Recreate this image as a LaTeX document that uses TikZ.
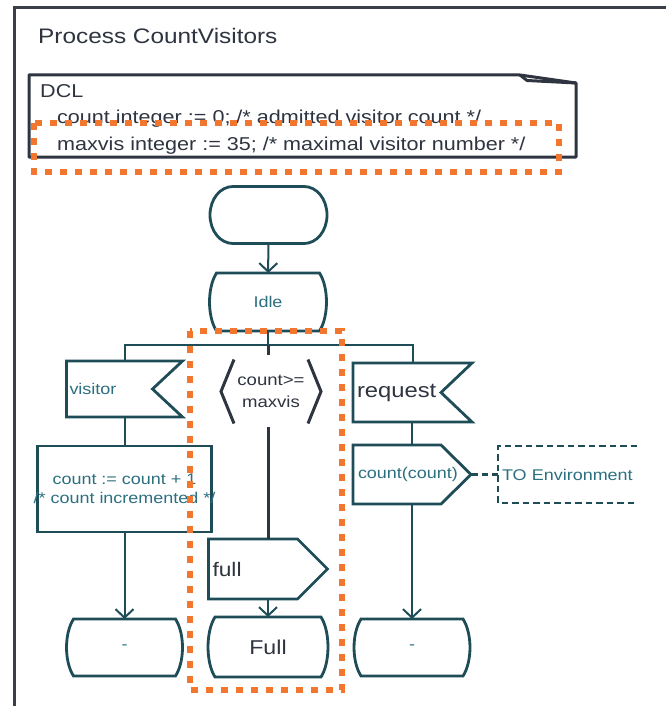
\documentclass[tikz,border=0pt]{standalone}
\usepackage{fontspec}
\setmainfont{Liberation Sans}[FakeStretch=1.16]
\usetikzlibrary{arrows.meta,calc}

\definecolor{sdlline}{HTML}{1E4D58}
\definecolor{sdltext}{HTML}{2C7080}
\definecolor{inktext}{HTML}{2E3440}
\definecolor{framegray}{HTML}{3A3F48}
\definecolor{marker}{HTML}{F2762E}

\tikzset{
  sdl/.style={draw=sdlline, line width=2.8pt},
  flow/.style={draw=sdlline, line width=2pt},
  flowarrow/.style={flow, -{Straight Barb[length=8.5pt,width=18pt]}},
  guardline/.style={draw=inktext, line width=3pt},
  dclline/.style={draw=inktext, line width=3pt, line join=round},
  sdlbox/.style={inner sep=0pt, outer sep=0pt},
  labsmall/.style={font=\fontsize{15.5}{19}\selectfont, text=sdltext},
  lablarge/.style={font=\fontsize{20}{24}\selectfont, text=inktext},
  dcltext/.style={anchor=base west, inner sep=0pt, font=\fontsize{18.6}{22}\selectfont, text=inktext},
  hilite/.style={draw=marker, line width=6pt, dash pattern=on 7pt off 8pt},
  envline/.style={draw=sdlline, line width=2.6pt, dash pattern=on 6.5pt off 4pt},
}

% SDL start: flat top and bottom with half-elliptic ends
\newcommand\startoutline[1]{%
  \draw[sdl] ($(#1.north west)+(23,0)$) -- ($(#1.north east)+(-23,0)$)
    .. controls ($(#1.north east)+(-10.3,0)$) and ($(#1.east)+(0,-16)$) .. (#1.east)
    .. controls ($(#1.east)+(0,16)$) and ($(#1.south east)+(-10.3,0)$) .. ($(#1.south east)+(-23,0)$)
    -- ($(#1.south west)+(23,0)$)
    .. controls ($(#1.south west)+(10.3,0)$) and ($(#1.west)+(0,16)$) .. (#1.west)
    .. controls ($(#1.west)+(0,-16)$) and ($(#1.north west)+(10.3,0)$) .. cycle;}
% SDL state: straight top and bottom, bulging sides
\newcommand\stateoutline[1]{%
  \draw[sdl] ($(#1.north west)+(7,0)$) -- ($(#1.north east)+(-7,0)$)
    .. controls ($(#1.north east)+(2.3,14.5)$) and ($(#1.south east)+(2.3,-14.5)$) .. ($(#1.south east)+(-7,0)$)
    -- ($(#1.south west)+(7,0)$)
    .. controls ($(#1.south west)+(-2.3,-14.5)$) and ($(#1.north west)+(-2.3,14.5)$) .. cycle;}
% SDL signal input: notch cut into the right side
\newcommand\inputoutline[2]{%
  \draw[sdl] (#1.north west) -- (#1.north east) -- ($(#1.east)+(-#2,0)$)
    -- (#1.south east) -- (#1.south west) -- cycle;}
% SDL signal output: pointed right side
\newcommand\outputoutline[2]{%
  \draw[sdl] (#1.north west) -- ($(#1.north east)+(-#2,0)$) -- (#1.east)
    -- ($(#1.south east)+(-#2,0)$) -- (#1.south west) -- cycle;}

\begin{document}
\begin{tikzpicture}[x=1pt,y=-1pt]
\useasboundingbox (0,0) rectangle (666,706);
\fill[white] (0,0) rectangle (666,706);

% process frame and heading
\draw[framegray, line width=3pt] (14,706) -- (14,7.5) -- (666,7.5);
\node[anchor=base west, inner sep=0pt, font=\fontsize{21}{25}\selectfont, text=inktext] (title) at (38,44) {Process CountVisitors};

% declarations text symbol
\node[sdlbox, minimum width=547, minimum height=82, anchor=north west] (dcl) at (29,75) {};
\draw[dclline] (dcl.north west) -- ($(dcl.north east)+(-56,0)$) -- ($(dcl.north east)+(0,8)$)
  -- (dcl.south east) -- (dcl.south west) -- cycle;
\draw[dclline] ($(dcl.north east)+(-56,0)$) -- ($(dcl.north east)+(-49,5.5)$) -- ($(dcl.north east)+(0,8)$);
\node[dcltext] (dclA) at (40,97.5) {DCL};
\node[dcltext] (dclB) at (57,124) {count integer := 0; /* admitted visitor count */};
\node[dcltext] (dclC) at (57,150) {maxvis integer := 35; /* maximal visitor number */};

% start and Idle
\node[sdlbox, minimum width=117, minimum height=57] (start) at (268.5,215) {};
\startoutline{start}
\node[sdlbox, minimum width=117, minimum height=58, labsmall] (idle) at (268,302) {Idle};
\stateoutline{idle}
\coordinate (bus) at (268,345);

% left branch: visitor
\node[sdlbox, minimum width=116, minimum height=56, text width=110, inner xsep=3pt, align=left, labsmall] (vis) at (124.5,389) {visitor};
\inputoutline{vis}{30}
\node[sdlbox, sdl, minimum width=174, minimum height=86, align=center, labsmall] (task) at (124.5,489)
  {\makebox[0pt]{count := count + 1}\\\makebox[0pt]{/* count incremented */}};
\node[sdlbox, minimum width=116, minimum height=57, labsmall] (d1) at (124.5,647.5) {-};
\stateoutline{d1}

% middle branch: continuous signal
\node[sdlbox, minimum width=100, minimum height=64, align=center, font=\fontsize{16}{22}\selectfont, text=inktext] (cont) at (271,391.5) {count>=\\maxvis};
\draw[guardline] ($(cont.north west)+(13,0)$) -- (cont.west) -- ($(cont.south west)+(13,0)$);
\draw[guardline] ($(cont.north east)+(-13,0)$) -- (cont.east) -- ($(cont.south east)+(-13,0)$);
\node[sdlbox, minimum width=119, minimum height=60, text width=111, inner xsep=4pt, align=left, lablarge, font=\fontsize{19.6}{24}\selectfont] (full) at (268,569) {full};
\outputoutline{full}{30}
\node[sdlbox, minimum width=120, minimum height=60, lablarge] (fullst) at (268,647) {Full};
\stateoutline{fullst}

% right branch: request
\node[sdlbox, minimum width=119, minimum height=59, text width=111, inner xsep=4pt, align=left, lablarge, font=\fontsize{20.5}{24}\selectfont] (req) at (412.5,392.5) {request};
\inputoutline{req}{31}
\node[sdlbox, minimum width=118, minimum height=59, text width=108, inner xsep=5pt, align=left, labsmall] (out1) at (412,474.5) {count(count)};
\outputoutline{out1}{30}
\node[sdlbox, minimum width=139, minimum height=57, text width=131, inner xsep=4pt, align=left, labsmall] (env) at (567.5,474.5) {\mbox{TO Environment}};
\node[sdlbox, minimum width=116, minimum height=57, labsmall] (d2) at (412,647.5) {-};
\stateoutline{d2}

% connectors
\draw[flowarrow] (start) -- (idle);
\draw[flow] (idle) -- (bus);
\draw[flow] (vis.north) |- (bus) -| (req.north);
\draw[flow] (vis) -- (task);
\draw[flowarrow] (task) -- (d1);
\draw[guardline, shorten >=5pt] (bus) -- (bus |- cont.north);
\draw[guardline, shorten <=3.5pt] (full.north |- cont.south) -- (full.north);
\draw[flowarrow] (full) -- (fullst);
\draw[flow] (req.south -| out1.north) -- (out1.north);
\draw[flowarrow] (out1) -- (d2);
\draw[envline] (out1.east) -- (env.west);
\draw[envline] (env.north east) -- (env.north west) -- (env.south west) -- (env.south east);

% highlight marks
\draw[hilite] (34,123) rectangle (559,172);
\draw[hilite] (190,331) rectangle (342,690);
\end{tikzpicture}
\end{document}
